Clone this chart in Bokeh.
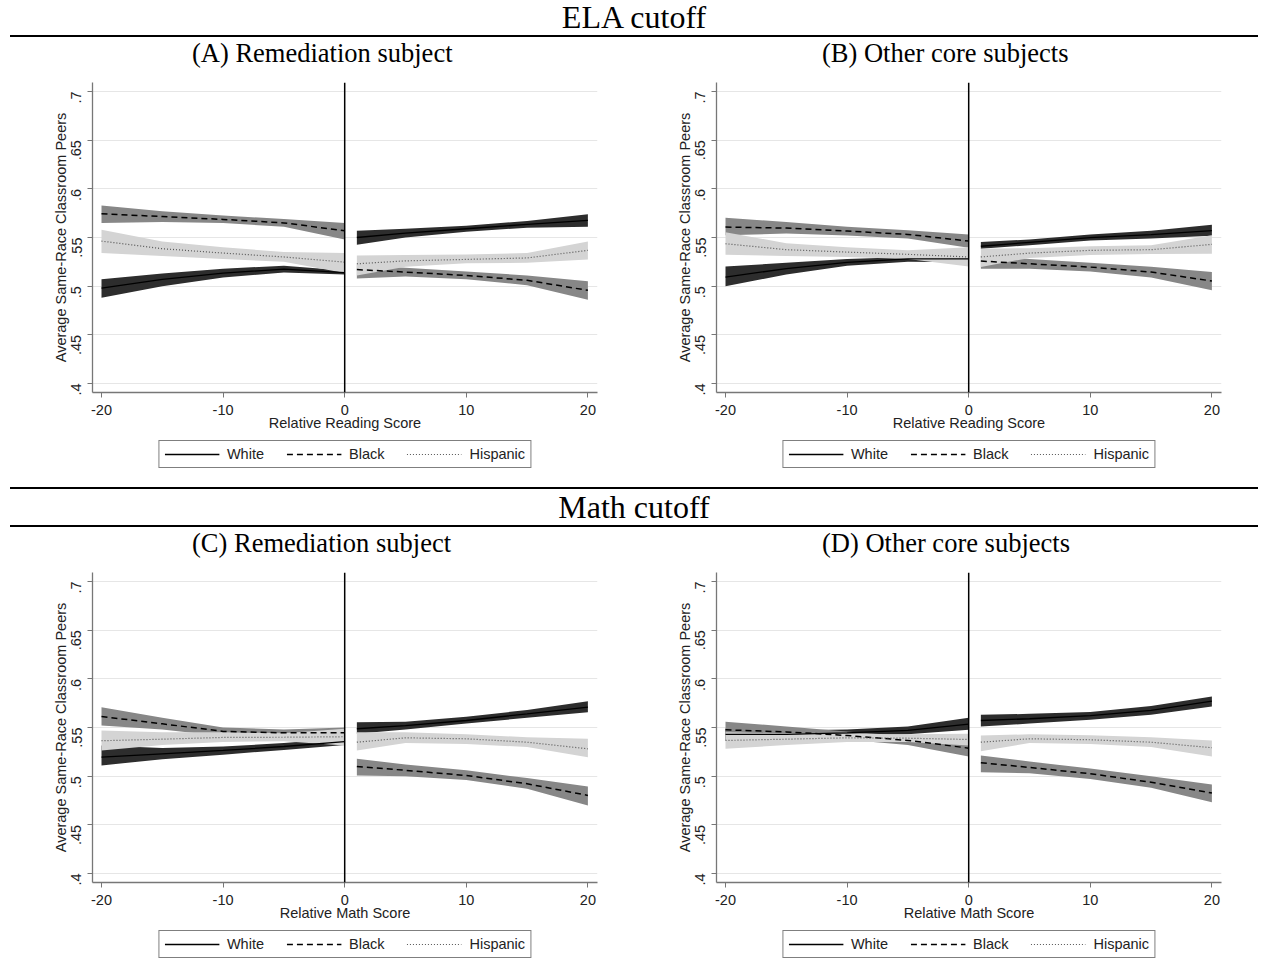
import math
import numpy as np
from bokeh.plotting import figure
from bokeh.models import (Span, Legend, LegendItem, FixedTicker,
                          CustomJSTickFormatter, Div, Range1d)
from bokeh.layouts import column, row
from bokeh.embed import file_html
from bokeh.resources import INLINE

# Relative score bins: left of the cutoff, then right of the cutoff
X_LEFT = [-20, -15, -10, -5, 0]
X_RIGHT = [1, 5, 10, 15, 20]
X_TICKS = [-20, -10, 0, 10, 20]
Y_TICKS = [0.4, 0.45, 0.5, 0.55, 0.6, 0.65, 0.7]

# (A) ELA cutoff, remediation subject
A_WHITE = [0.498, 0.507, 0.5135, 0.5175, 0.514, 0.550, 0.5545, 0.559, 0.5635, 0.5676]
A_WHITE_LO = [0.488, 0.500, 0.509, 0.514, 0.512, 0.5426, 0.550, 0.556, 0.560, 0.561]
A_WHITE_HI = [0.507, 0.513, 0.518, 0.521, 0.516, 0.557, 0.559, 0.562, 0.567, 0.574]
A_BLACK = [0.5744, 0.5715, 0.5686, 0.565, 0.557, 0.517, 0.5145, 0.511, 0.506, 0.4957]
A_BLACK_LO = [0.565, 0.566, 0.565, 0.561, 0.548, 0.508, 0.510, 0.507, 0.501, 0.486]
A_BLACK_HI = [0.583, 0.577, 0.5725, 0.569, 0.565, 0.5214, 0.519, 0.515, 0.511, 0.505]
A_HISP = [0.5463, 0.5385, 0.534, 0.530, 0.5247, 0.523, 0.526, 0.5275, 0.529, 0.5368]
A_HISP_LO = [0.534, 0.531, 0.528, 0.525, 0.5135, 0.511, 0.520, 0.5235, 0.524, 0.5275]
A_HISP_HI = [0.558, 0.546, 0.540, 0.535, 0.534, 0.5316, 0.532, 0.5325, 0.534, 0.546]

# (B) ELA cutoff, other core subjects
B_WHITE = [0.5094, 0.518, 0.5245, 0.528, 0.528, 0.541, 0.545, 0.5498, 0.553, 0.557]
B_WHITE_LO = [0.4998, 0.512, 0.521, 0.525, 0.5245, 0.5385, 0.542, 0.547, 0.549, 0.5518]
B_WHITE_HI = [0.5203, 0.524, 0.528, 0.530, 0.531, 0.5453, 0.548, 0.553, 0.557, 0.5631]
B_BLACK = [0.5607, 0.5597, 0.5566, 0.5532, 0.5463, 0.5258, 0.523, 0.5196, 0.5145, 0.5053]
B_BLACK_LO = [0.5522, 0.554, 0.552, 0.549, 0.5395, 0.518, 0.518, 0.515, 0.509, 0.4957]
B_BLACK_HI = [0.5703, 0.566, 0.561, 0.5575, 0.5532, 0.5316, 0.528, 0.524, 0.520, 0.5145]
B_HISP = [0.5436, 0.5375, 0.535, 0.5327, 0.530, 0.530, 0.534, 0.5368, 0.5375, 0.5429]
B_HISP_LO = [0.5323, 0.531, 0.530, 0.528, 0.5203, 0.5196, 0.529, 0.532, 0.533, 0.5334]
B_HISP_HI = [0.5555, 0.544, 0.540, 0.537, 0.540, 0.5385, 0.539, 0.541, 0.542, 0.5522]

# (C) Math cutoff, remediation subject
C_WHITE = [0.5195, 0.523, 0.5264, 0.5305, 0.5355, 0.5487, 0.552, 0.5572, 0.564, 0.5709]
C_WHITE_LO = [0.511, 0.5175, 0.522, 0.527, 0.532, 0.5435, 0.548, 0.554, 0.560, 0.5657]
C_WHITE_HI = [0.5315, 0.529, 0.5305, 0.534, 0.539, 0.5554, 0.556, 0.561, 0.568, 0.577]
C_BLACK = [0.5613, 0.5538, 0.546, 0.5445, 0.5445, 0.510, 0.506, 0.5007, 0.4922, 0.4802]
C_BLACK_LO = [0.552, 0.548, 0.541, 0.540, 0.539, 0.5007, 0.500, 0.496, 0.487, 0.4699]
C_BLACK_HI = [0.5708, 0.560, 0.550, 0.548, 0.550, 0.5179, 0.512, 0.506, 0.498, 0.4894]
C_HISP = [0.5364, 0.538, 0.5398, 0.540, 0.5405, 0.5349, 0.5394, 0.5384, 0.5349, 0.5281]
C_HISP_LO = [0.5264, 0.532, 0.535, 0.536, 0.5315, 0.5264, 0.534, 0.533, 0.530, 0.5195]
C_HISP_HI = [0.547, 0.545, 0.545, 0.544, 0.5487, 0.5452, 0.545, 0.543, 0.540, 0.5384]

# (D) Math cutoff, other core subjects
D_WHITE = [0.543, 0.543, 0.5445, 0.547, 0.5535, 0.5572, 0.559, 0.5623, 0.5675, 0.577]
D_WHITE_LO = [0.537, 0.539, 0.5415, 0.543, 0.5476, 0.551, 0.554, 0.558, 0.563, 0.5716]
D_WHITE_HI = [0.549, 0.547, 0.548, 0.551, 0.560, 0.563, 0.564, 0.566, 0.572, 0.5818]
D_BLACK = [0.5476, 0.5455, 0.5418, 0.5367, 0.5288, 0.5138, 0.509, 0.5025, 0.4938, 0.4826]
D_BLACK_LO = [0.539, 0.539, 0.5375, 0.532, 0.5202, 0.5041, 0.503, 0.497, 0.488, 0.4733]
D_BLACK_HI = [0.556, 0.551, 0.546, 0.541, 0.5346, 0.5213, 0.515, 0.508, 0.500, 0.4915]
D_HISP = [0.5367, 0.538, 0.5394, 0.539, 0.5377, 0.5349, 0.5384, 0.5374, 0.5349, 0.5292]
D_HISP_LO = [0.5281, 0.532, 0.535, 0.535, 0.5315, 0.5257, 0.534, 0.533, 0.530, 0.5202]
D_HISP_HI = [0.5452, 0.544, 0.5435, 0.543, 0.5435, 0.5418, 0.543, 0.542, 0.540, 0.5367]

GROUPS = ["White", "Black", "Hispanic"]
BAND_COLOR = {"White": "#2d2d2d", "Black": "#878787", "Hispanic": "#d4d4d4"}
LINE_STYLE = {
    "White": dict(line_color="black", line_width=1.3, line_dash="solid"),
    "Black": dict(line_color="black", line_width=1.5, line_dash="6 4"),
    "Hispanic": dict(line_color="#555555", line_width=1.2, line_dash="1 2"),
}

SANS = "Liberation Sans"
SERIF = "Liberation Serif"
FS = "14.5px"


def make_panel(xlabel, series, width, right_border, height):
    p = figure(width=width, height=height, output_backend="svg", toolbar_location=None,
               title=None,
               x_range=Range1d(-20.74, 20.79), y_range=Range1d(0.39076, 0.70924),
               min_border_left=92, min_border_right=right_border,
               min_border_top=9, min_border_bottom=43,
               background_fill_color="white", border_fill_color="white")
    p.outline_line_color = None

    n = len(X_LEFT)
    parts = [(slice(0, n), X_LEFT), (slice(n, None), X_RIGHT)]

    # confidence bands first, then fitted lines on top
    for g in GROUPS:
        mean, lo, hi = series[g]
        for sl, xs in parts:
            p.varea(x=xs, y1=lo[sl], y2=hi[sl], fill_color=BAND_COLOR[g], fill_alpha=1)
    for g in GROUPS:
        mean, lo, hi = series[g]
        for sl, xs in parts:
            p.line(xs, mean[sl], **LINE_STYLE[g])

    p.add_layout(Span(location=0, dimension="height", line_color="black", line_width=1.5))

    p.xgrid.visible = False
    p.ygrid.ticker = FixedTicker(ticks=Y_TICKS)
    p.ygrid.grid_line_color = "#e6e6e6"
    p.ygrid.grid_line_width = 1.2

    for ax in (p.xaxis[0], p.yaxis[0]):
        ax.axis_line_color = "#777777"
        ax.axis_line_width = 1.3
        ax.major_tick_line_color = "#777777"
        ax.major_tick_in = 0
        ax.major_tick_out = 5
        ax.minor_tick_line_color = None
        ax.major_label_text_font = SANS
        ax.major_label_text_font_size = FS
        ax.major_label_text_color = "#222222"
        ax.axis_label_text_font = SANS
        ax.axis_label_text_font_size = FS
        ax.axis_label_text_font_style = "normal"
        ax.axis_label_text_color = "#222222"

    p.xaxis.ticker = FixedTicker(ticks=X_TICKS)
    p.xaxis.formatter = CustomJSTickFormatter(code="return String(tick);")
    p.xaxis.axis_label = xlabel
    p.xaxis.major_label_standoff = 7
    p.xaxis.axis_label_standoff = -3

    p.yaxis.ticker = FixedTicker(ticks=Y_TICKS)
    p.yaxis.formatter = CustomJSTickFormatter(
        code="return tick.toFixed(2).replace(/0+$/, '').replace(/^0/, '');")
    p.yaxis.major_label_orientation = math.pi / 2
    p.yaxis.axis_label = "Average Same-Race Classroom Peers"
    p.yaxis.major_label_standoff = 11
    p.yaxis.axis_label_standoff = -5
    return p


def make_key(width, right_border, height):
    # a bare strip that only carries the line key under each panel;
    # its line renderers hold a single empty (NaN) point so nothing is drawn
    k = figure(width=width, height=height, output_backend="svg", toolbar_location=None,
               title=None, x_axis_type=None, y_axis_type=None,
               x_range=Range1d(0, 1), y_range=Range1d(0, 1),
               min_border_left=92, min_border_right=right_border,
               min_border_top=0, min_border_bottom=0,
               background_fill_color="white", border_fill_color="white")
    k.outline_line_color = None
    k.grid.visible = False
    nan = np.array([np.nan])
    refs = {g: k.line(x=nan, y=nan, **LINE_STYLE[g]) for g in GROUPS}
    legend = Legend(
        items=[LegendItem(label=g, renderers=[refs[g]]) for g in GROUPS],
        orientation="horizontal", location="top_center",
        border_line_color="black", border_line_width=1,
        background_fill_color="white", background_fill_alpha=1,
        glyph_width=55, glyph_height=16, label_standoff=8, spacing=22,
        padding=5, margin=5, label_height=16,
        label_text_font=SANS, label_text_font_size=FS, label_text_color="#222222",
    )
    k.add_layout(legend, "center")
    return k


def header(text, top_border):
    borders = "border-bottom:2px solid #000;"
    h = 37
    if top_border:
        borders = "border-top:2px solid #000;" + borders
        h = 40
    inner = h - 2 - (2 if top_border else 0)
    html = (f'<div style="box-sizing:border-box;margin:0 0 0 10px;width:1248px;height:{h}px;'
            f'{borders}font-family:\'{SERIF}\';font-size:32px;line-height:{inner}px;'
            f'text-align:center;color:#000;">{text}</div>')
    return Div(text=html, width=1262, height=h, styles={"margin": "0", "padding": "0"})


def panel_title(text, width, indent):
    html = (f'<div style="box-sizing:border-box;width:{width}px;height:36px;padding-left:{indent}px;'
            f'font-family:\'{SERIF}\';font-size:26.5px;line-height:32px;color:#000;'
            f'white-space:nowrap;">{text}</div>')
    return Div(text=html, width=width, height=36, styles={"margin": "0", "padding": "0"})


def series_of(w, wl, wh, b, bl, bh, h, hl, hh):
    return {"White": (w, wl, wh), "Black": (b, bl, bh), "Hispanic": (h, hl, hh)}


pA = make_panel("Relative Reading Score",
                series_of(A_WHITE, A_WHITE_LO, A_WHITE_HI, A_BLACK, A_BLACK_LO, A_BLACK_HI,
                          A_HISP, A_HISP_LO, A_HISP_HI), 624, 27, 362)
pB = make_panel("Relative Reading Score",
                series_of(B_WHITE, B_WHITE_LO, B_WHITE_HI, B_BLACK, B_BLACK_LO, B_BLACK_HI,
                          B_HISP, B_HISP_LO, B_HISP_HI), 638, 41, 362)
pC = make_panel("Relative Math Score",
                series_of(C_WHITE, C_WHITE_LO, C_WHITE_HI, C_BLACK, C_BLACK_LO, C_BLACK_HI,
                          C_HISP, C_HISP_LO, C_HISP_HI), 624, 27, 362)
pD = make_panel("Relative Math Score",
                series_of(D_WHITE, D_WHITE_LO, D_WHITE_HI, D_BLACK, D_BLACK_LO, D_BLACK_HI,
                          D_HISP, D_HISP_LO, D_HISP_HI), 638, 41, 362)

layout = column(
    header("ELA cutoff", False),
    row(panel_title("(A) Remediation subject", 624, 192),
        panel_title("(B) Other core subjects", 638, 198)),
    row(column(pA, make_key(624, 27, 52), spacing=0),
        column(pB, make_key(638, 41, 52), spacing=0)),
    header("Math cutoff", True),
    row(panel_title("(C) Remediation subject", 624, 192),
        panel_title("(D) Other core subjects", 638, 198)),
    row(column(pC, make_key(624, 27, 48), spacing=0),
        column(pD, make_key(638, 41, 48), spacing=0)),
    spacing=0,
)

open("out.html", "w").write(file_html(layout, INLINE))
